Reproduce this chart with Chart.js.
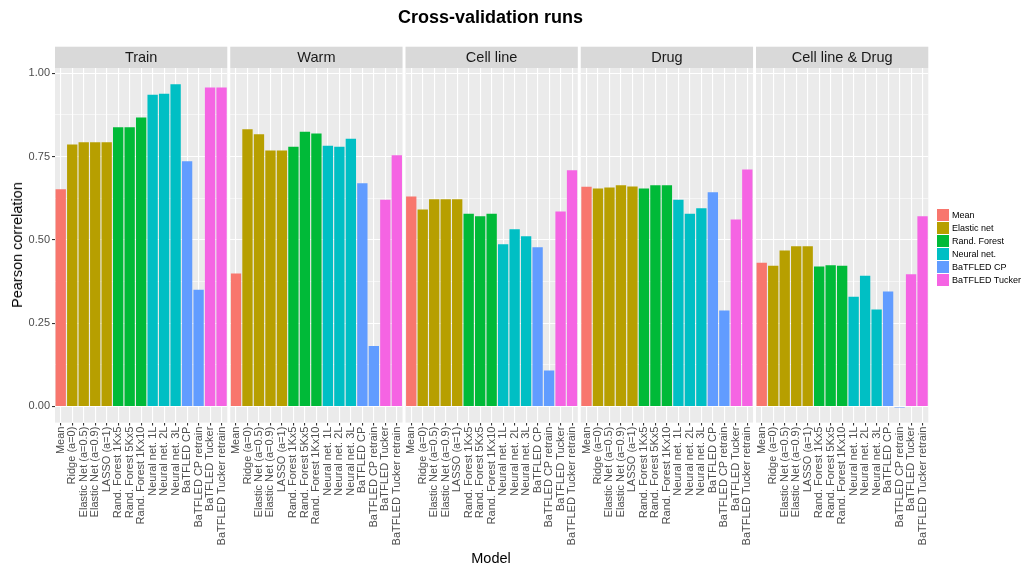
<!DOCTYPE html>
<html>
<head>
<meta charset="utf-8">
<script src="https://cdn.jsdelivr.net/npm/chart.js@4.4.1/dist/chart.umd.min.js"></script>
<style>
  body { margin: 0; background: #fff; font-family: "Liberation Sans", Arial, sans-serif; }
  #wrap { position: relative; width: 1021px; height: 565px; overflow: hidden; }
  #wrap canvas { position: absolute; left: 0; top: 0; }
  .title { position: absolute; left: 0; width: 981px; top: 7px; text-align: center; font-weight: bold; font-size: 18px; color: #000; }
  .ytitle { position: absolute; left: 17px; top: 245px; transform: translate(-50%, -50%) rotate(-90deg); font-size: 14.5px; white-space: nowrap; color: #000; }
  .xtitle { position: absolute; left: 491px; top: 558px; transform: translate(-50%, -50%); font-size: 14.5px; color: #000; }
  #legend { position: absolute; left: 937px; top: 209px; font-size: 9px; color: #000; white-space: nowrap; }
  #legend .row { height: 12.9px; display: flex; align-items: center; }
  #legend .key { width: 12px; height: 12px; margin-right: 3px; flex: none; }
</style>
</head>
<body>
<div id="wrap">
  <div class="title">Cross-validation runs</div>
  <div class="ytitle">Pearson correlation</div>
  <div class="xtitle">Model</div>
  <div id="legend"></div>
</div>
<script>
const panels = ['Train', 'Warm', 'Cell line', 'Drug', 'Cell line & Drug'];
const models = ['Mean', 'Ridge (a=0)', 'Elastic Net (a=0.5)', 'Elastic Net (a=0.9)', 'LASSO (a=1)',
  'Rand. Forest 1Kx5', 'Rand. Forest 5Kx5', 'Rand. Forest 1Kx10',
  'Neural net. 1L', 'Neural net. 2L', 'Neural net. 3L',
  'BaTFLED CP', 'BaTFLED CP retrain', 'BaTFLED Tucker', 'BaTFLED Tucker retrain'];
const modelGroup = ['Mean', 'Elastic net', 'Elastic net', 'Elastic net', 'Elastic net',
  'Rand. Forest', 'Rand. Forest', 'Rand. Forest',
  'Neural net.', 'Neural net.', 'Neural net.',
  'BaTFLED CP', 'BaTFLED CP', 'BaTFLED Tucker', 'BaTFLED Tucker'];
const groups = ['Mean', 'Elastic net', 'Rand. Forest', 'Neural net.', 'BaTFLED CP', 'BaTFLED Tucker'];
const groupColors = ['#F8766D', '#B79F00', '#00BA38', '#00BFC4', '#619CFF', '#F564E3'];

const trainVals = [0.652, 0.786, 0.793, 0.793, 0.793, 0.838, 0.838, 0.867, 0.935, 0.938, 0.967, 0.736, 0.350, 0.957, 0.957];
const warmVals = [0.399, 0.832, 0.817, 0.768, 0.768, 0.779, 0.824, 0.819, 0.782, 0.779, 0.803, 0.670, 0.181, 0.620, 0.754];
const cellLineVals = [0.630, 0.591, 0.622, 0.622, 0.622, 0.578, 0.571, 0.578, 0.487, 0.532, 0.511, 0.478, 0.108, 0.585, 0.709];
const drugVals = [0.659, 0.654, 0.657, 0.664, 0.660, 0.654, 0.664, 0.664, 0.620, 0.578, 0.595, 0.643, 0.288, 0.561, 0.711];
const cellDrugVals = [0.431, 0.422, 0.468, 0.481, 0.481, 0.420, 0.424, 0.422, 0.329, 0.392, 0.291, 0.345, -0.003, 0.397, 0.571];
const panelVals = [trainVals, warmVals, cellLineVals, drugVals, cellDrugVals];

const yTicks = [0, 0.25, 0.5, 0.75, 1.0];
const yMin = -0.0485, yMax = 1.0155;

// panel geometry (px)
const W = 1021, H = 565;
const panelTop = 68, panelBottom = 422.6, panelWidth = 172.3;
const stripTop = 46.7;
const yAxisW = 50, xAxisH = 135;

// minor gridlines sit halfway between the major ticks
const gridVals = [];
yTicks.forEach((v, i) => {
  gridVals.push(v);
  if (i < yTicks.length - 1) gridVals.push((v + yTicks[i + 1]) / 2);
});
const isMajor = (v) => yTicks.some((t) => Math.abs(t - v) < 1e-9);

const panelPlugin = {
  id: 'panelBg',
  beforeDraw(chart, args, opts) {
    const { ctx, chartArea } = chart;
    ctx.save();
    ctx.fillStyle = '#EBEBEB';
    ctx.fillRect(chartArea.left, chartArea.top, chartArea.right - chartArea.left, chartArea.bottom - chartArea.top);
    ctx.fillStyle = '#D9D9D9';
    ctx.fillRect(chartArea.left, stripTop, chartArea.right - chartArea.left, chartArea.top - stripTop);
    ctx.fillStyle = '#1A1A1A';
    ctx.font = '14.5px "Liberation Sans", Arial, sans-serif';
    ctx.textAlign = 'center';
    ctx.textBaseline = 'middle';
    ctx.fillText(opts.label, (chartArea.left + chartArea.right) / 2, (stripTop + chartArea.top) / 2 + 0.5);
    ctx.restore();
  }
};

const wrap = document.getElementById('wrap');
panels.forEach((name, i) => {
  const canvas = document.createElement('canvas');
  canvas.width = W;
  canvas.height = H;
  canvas.style.width = W + 'px';
  canvas.style.height = H + 'px';
  wrap.insertBefore(canvas, wrap.firstChild);
  const left = 55 + 175.25 * i;
  const first = i === 0;

  new Chart(canvas, {
    type: 'bar',
    data: {
      labels: models,
      datasets: [{
        data: panelVals[i],
        backgroundColor: modelGroup.map((g) => groupColors[groups.indexOf(g)]),
        borderWidth: 0,
        barPercentage: 0.9,
        categoryPercentage: 1,
      }],
    },
    plugins: [panelPlugin],
    options: {
      responsive: false,
      animation: false,
      layout: {
        padding: {
          left: left - yAxisW,
          right: W - left - panelWidth,
          top: panelTop,
          bottom: H - panelBottom - xAxisH,
        },
      },
      plugins: {
        legend: { display: false },
        tooltip: { enabled: false },
        panelBg: { label: name },
      },
      scales: {
        x: {
          type: 'category',
          offset: true,
          afterFit: (s) => { s.height = xAxisH; },
          border: { display: false },
          grid: { color: '#FFFFFF', lineWidth: 1.1, offset: false, drawTicks: true, tickLength: 3, tickColor: '#333333' },
          ticks: {
            autoSkip: false, maxRotation: 90, minRotation: 90, padding: 1,
            color: '#4D4D4D', font: { family: '"Liberation Sans", Arial, sans-serif', size: 11 },
          },
        },
        y: {
          min: yMin,
          max: yMax,
          afterFit: (s) => { s.width = yAxisW; },
          afterBuildTicks: (s) => { s.ticks = gridVals.map((v) => ({ value: v })); },
          border: { display: false },
          grid: {
            color: '#FFFFFF',
            lineWidth: (c) => (isMajor(c.tick.value) ? 1.1 : 0.55),
            drawTicks: first,
            tickLength: 3,
            tickColor: (c) => (isMajor(c.tick.value) ? '#333333' : 'rgba(0,0,0,0)'),
          },
          ticks: {
            display: first,
            padding: 2,
            color: '#4D4D4D',
            font: { family: '"Liberation Sans", Arial, sans-serif', size: 11 },
            callback: (v) => (isMajor(v) ? v.toFixed(2) : ''),
          },
        },
      },
    },
  });
});

// legend
const legend = document.getElementById('legend');
groups.forEach((g, i) => {
  const row = document.createElement('div');
  row.className = 'row';
  row.innerHTML = `<span class="key" style="background:${groupColors[i]}"></span><span>${g}</span>`;
  legend.appendChild(row);
});
</script>
</body>
</html>
